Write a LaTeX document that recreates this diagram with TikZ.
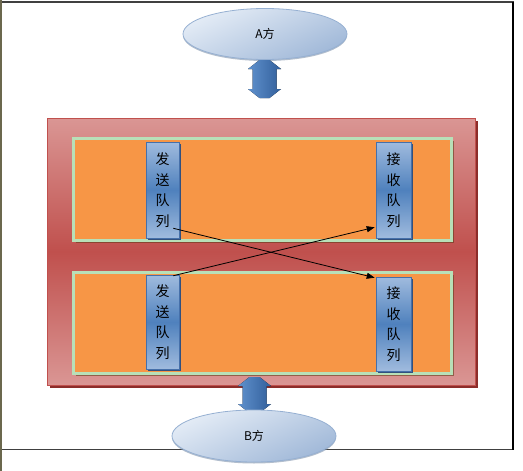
\documentclass[tikz,border=0pt]{standalone}
\usepackage{fontspec}
\newfontfamily\cjk{Noto Sans CJK SC}
\usetikzlibrary{shapes.geometric,shadows,arrows.meta,calc}
\definecolor{redlight}{RGB}{218,150,148}
\definecolor{reddark}{RGB}{192,80,77}
\definecolor{redshadow}{RGB}{140,45,42}
\definecolor{mint}{RGB}{184,224,184}
\definecolor{orangefill}{RGB}{247,150,70}
\definecolor{bluelight}{RGB}{160,187,222}
\definecolor{bluemid}{RGB}{79,129,189}
\definecolor{blueborder}{RGB}{70,112,170}
\definecolor{blueshadow}{RGB}{50,80,125}
\definecolor{ellight}{RGB}{228,236,246}
\definecolor{eldark}{RGB}{160,184,216}
\definecolor{elborder}{RGB}{150,176,210}
\definecolor{arrl}{RGB}{95,145,205}
\definecolor{arrr}{RGB}{50,95,155}
\newcommand\dblarr[3]{%
  \fill[left color=arrl,right color=arrr]
    (#1-5,#2) -- (#1+5,#2) -- (#1+16.5,#2+9) -- (#1+12,#2+9) -- (#1+12,#3-9)
    -- (#1+16.5,#3-9) -- (#1+5,#3) -- (#1-5,#3) -- (#1-16.5,#3-9) -- (#1-12,#3-9)
    -- (#1-12,#2+9) -- (#1-16.5,#2+9) -- cycle;}
\begin{document}
\begin{tikzpicture}[x=1pt,y=-1pt,
  party/.style={ellipse,draw=elborder,line width=0.8pt,
    top color=ellight,bottom color=eldark,shading angle=25,
    minimum width=164,minimum height=51,inner sep=0pt,
    font=\cjk\fontsize{12}{14}\selectfont,
    drop shadow={shadow xshift=0pt,shadow yshift=-1.5pt,fill=eldark!80!black,opacity=0.6}},
  outerbox/.style={draw=reddark,line width=0.8pt,
    top color=redlight,bottom color=redlight,middle color=reddark,
    inner sep=0pt,
    drop shadow={shadow xshift=2.5pt,shadow yshift=-2.5pt,fill=redshadow,opacity=1}},
  innerbox/.style={draw=mint,line width=3pt,fill=orangefill,inner sep=0pt,
    drop shadow={shadow xshift=2pt,shadow yshift=-2pt,fill=black!60!orangefill,opacity=0.6}},
  queue/.style={draw=blueborder,line width=0.6pt,
    top color=bluelight,bottom color=bluelight,middle color=bluemid,
    inner sep=0pt,align=center,
    font=\cjk\fontsize{14}{20.5}\selectfont,
    drop shadow={shadow xshift=2pt,shadow yshift=-2pt,fill=blueshadow,opacity=1}},
  link/.style={-{Triangle[length=8pt,width=6pt]},line width=0.8pt,black}
]
\useasboundingbox (0,0) rectangle (523,471);
\fill[white] (0,0) rectangle (523,471);
% frame
\draw[black!75,line width=1.5pt] (0,2) -- (513.5,2);
\draw[black!75,line width=1.5pt] (0,449.5) -- (514,449.5);
\draw[black,line width=1.2pt] (513,2) -- (513,449.5);
\draw[black!55!olive!60!gray,line width=1.6pt] (0.8,0) -- (0.8,471);
% parties
\node[party] (A) at (265,34) {A方};
\node[outerbox,minimum width=428,minimum height=267] (outer) at (261,251.5) {};
\node[innerbox,minimum width=378,minimum height=102] (top) at (262.5,189.5) {};
\node[innerbox,minimum width=378,minimum height=101] (bot) at (262.5,323) {};
\node[queue,minimum width=33,minimum height=96] (st) at (162.5,190) {发\\送\\队\\列};
\node[queue,minimum width=35,minimum height=96] (rt) at (393.5,190) {接\\收\\队\\列};
\node[queue,minimum width=33,minimum height=94] (sb) at (162.5,322) {发\\送\\队\\列};
\node[queue,minimum width=35,minimum height=94] (rb) at (393.5,324) {接\\收\\队\\列};
\draw[link] ([xshift=-6pt,yshift=10pt]st.south east) -- ([xshift=-1pt,yshift=-1pt]rb.north west);
\draw[link] ([xshift=-6pt,yshift=-1pt]sb.north east) -- ([xshift=-1pt,yshift=11pt]rt.south west);
% double arrows
\dblarr{264.5}{60}{98}
\dblarr{254.5}{377}{413}
\node[party,minimum height=52] (B) at (254,436) {B方};
\end{tikzpicture}
\end{document}
